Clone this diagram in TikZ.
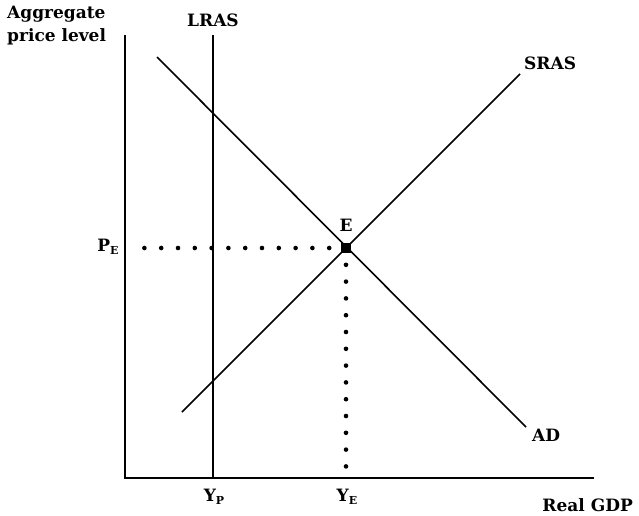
\documentclass[tikz,border=0pt]{standalone}
\usepackage{fontspec}
\setmainfont{DejaVu Serif}
\begin{document}
\begin{tikzpicture}[x=1pt,y=-1pt,
  lbl/.style={font=\bfseries\fontsize{17}{20}\selectfont, inner sep=0pt},
  curve/.style={line width=1.6pt},
  axis/.style={line width=2.2pt},
  dots/.style={line width=4.6pt, line cap=round, dash pattern=on 0pt off 16.8pt}]
\useasboundingbox (0,0) rectangle (639,515);
\newcommand{\sub}[1]{\raisebox{-3pt}{\fontsize{11}{12}\selectfont #1}}
% axes
\coordinate (O) at (125,478);
\coordinate (ytop) at (125,35);
\coordinate (xend) at (594,478);
\draw[axis] (ytop) -- (O) -- (xend);
% LRAS
\coordinate (lt) at (213,35);
\coordinate (lb) at (213,478);
\draw[curve] (lt) -- (lb);
% AD and SRAS
\coordinate (ad1) at (157,57);
\coordinate (ad2) at (526,427);
\draw[curve] (ad1) -- (ad2);
\coordinate (s1) at (182,412);
\coordinate (s2) at (520,74);
\draw[curve] (s1) -- (s2);
% equilibrium
\coordinate (E) at (346,248);
\coordinate (hstart) at (141,248);
\coordinate (vend) at (346,469);
\draw[dots] (E) -- (hstart);
\draw[dots] (E) -- (vend);
\fill (E) ++(-5,-5) rectangle ++(10,10);
% labels
\node[lbl] (lLRAS) at (213,20) {LRAS};
\node[lbl, align=left, anchor=north west] (lyax) at (7,6) {Aggregate\\[3pt]price level};
\node[lbl, anchor=west] (lSRAS) at (524,63) {SRAS};
\node[lbl, anchor=west] (lAD) at (532,435) {AD};
\node[lbl] (lE) at (346,225) {E};
\node[lbl] (lPE) at (108,247) {P\sub{E}};
\node[lbl] (lYP) at (214,497) {Y\sub{P}};
\node[lbl] (lYE) at (347,497) {Y\sub{E}};
\node[lbl, anchor=east] (lGDP) at (633,505) {Real GDP};
\end{tikzpicture}
\end{document}
